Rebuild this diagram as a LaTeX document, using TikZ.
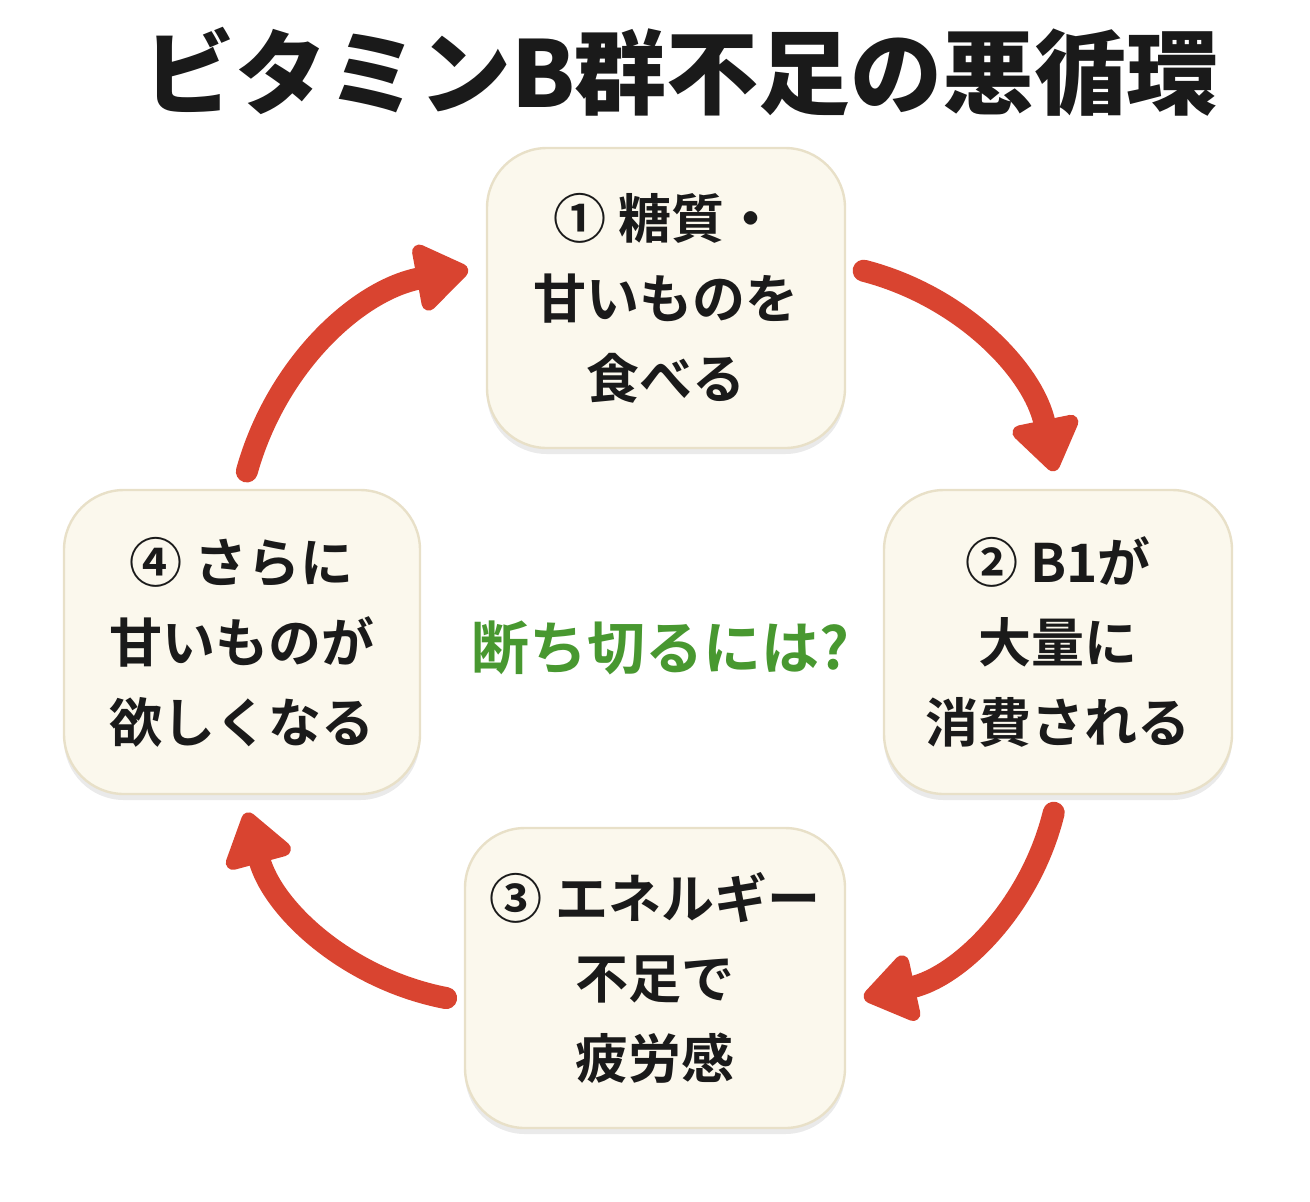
\documentclass[tikz,border=0pt]{standalone}
\usepackage{fontspec}
\setmainfont{Noto Sans CJK JP Bold}
\newfontfamily\titlefont{Noto Sans CJK JP Black}
\usetikzlibrary{arrows.meta,shadows}
\definecolor{boxfill}{RGB}{251,248,237}
\definecolor{boxline}{RGB}{232,224,200}
\definecolor{cycred}{RGB}{217,68,48}
\definecolor{cutgreen}{RGB}{72,152,48}
\definecolor{ink}{RGB}{26,26,26}
\tikzset{
  stagebox/.style={draw=boxline, line width=1.2pt, fill=boxfill,
                   rounded corners=30pt, align=center, text=ink,
                   font=\fontsize{26.5}{40}\selectfont, inner sep=0pt,
                   drop shadow={shadow xshift=0pt, shadow yshift=-3pt,
                                opacity=.10, fill=black!80}},
  cyc/.style={-{Triangle[length=29pt, width=38pt, round]}, line width=11pt,
              cycred, line cap=round, shorten <=9pt, shorten >=9pt},
  headline/.style={font=\titlefont\fontsize{46}{54}\selectfont, text=ink},
  cutnote/.style={font=\fontsize{29}{34}\selectfont, text=cutgreen},
}

\begin{document}
\begin{tikzpicture}[x=0.5pt, y=-0.5pt]
\path[use as bounding box, fill=white] (0,0) rectangle (1310,1201);

% ---------------------------------------------------------------- title
\node[headline] (title) at (681,72) {ビタミンB群不足の悪循環};

% ---------------------------------------------------------------- stages
\node[stagebox, minimum width=179pt, minimum height=150pt] (sugar) at (666,298)
  {① 糖質・\\甘いものを\\食べる};
\node[stagebox, minimum width=174pt, minimum height=152pt] (burn) at (1058,642)
  {② B1が\\大量に\\消費される};
\node[stagebox, minimum width=190pt, minimum height=150pt] (tired) at (655,978)
  {③ エネルギー\\不足で\\疲労感};
\node[stagebox, minimum width=178pt, minimum height=152pt] (crave) at (242,642)
  {④ さらに\\甘いものが\\欲しくなる};

% ---------------------------------------------------------------- centre question
\node[cutnote] (cut) at (660,648) {断ち切るには?};

% ---------------------------------------------------------------- cycle arrows
\draw[cyc] (sugar.10) to[bend left=32] (burn.north);
\draw[cyc] (burn.south) to[bend left=32] (tired.-7);
\draw[cyc] (tired.187) to[bend left=32] (crave.south);
\draw[cyc] (crave.north) to[bend left=32] (sugar.170);

\end{tikzpicture}
\end{document}
